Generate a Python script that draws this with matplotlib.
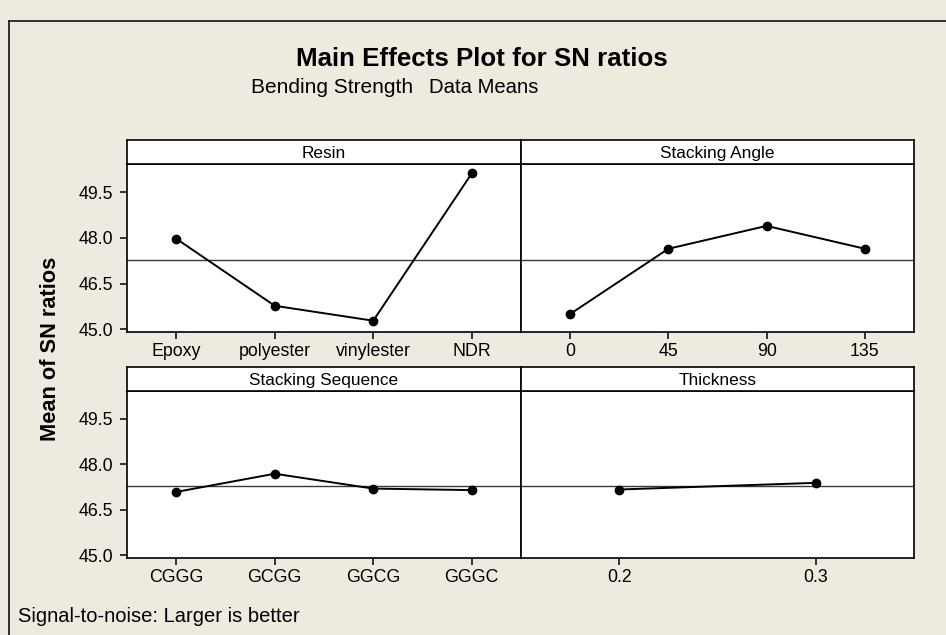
import matplotlib
matplotlib.use('Agg')
import matplotlib.pyplot as plt
from matplotlib.lines import Line2D
import numpy as np

W, H = 946, 635
BG = '#EEEAE0'

# data (mean SN ratios per level)
resin_levels = ['Epoxy', 'polyester', 'vinylester', 'NDR']
resin_sn = [47.97, 45.77, 45.28, 50.11]

angle_levels = ['0', '45', '90', '135']
angle_sn = [45.50, 47.64, 48.39, 47.64]

seq_levels = ['CGGG', 'GCGG', 'GGCG', 'GGGC']
seq_sn = [47.09, 47.69, 47.20, 47.15]

thick_levels = ['0.2', '0.3']
thick_sn = [47.17, 47.39]

yticks = [45.0, 46.5, 48.0, 49.5]

plt.rcParams['font.family'] = ['Liberation Sans', 'DejaVu Sans']

fig = plt.figure(figsize=(W / 100, H / 100), dpi=100, facecolor=BG)


def box(x0, y0, x1, y1):
    # pixel box (top-left origin) -> figure fraction
    return [x0 / W, 1 - y1 / H, (x1 - x0) / W, (y1 - y0) / H]


grand = np.mean(resin_sn)

panels = [
    ('Resin', resin_levels, resin_sn, (127, 140, 521, 332), True),
    ('Stacking Angle', angle_levels, angle_sn, (521, 140, 914, 332), False),
    ('Stacking Sequence', seq_levels, seq_sn, (127, 367, 521, 558), True),
    ('Thickness', thick_levels, thick_sn, (521, 367, 914, 558), False),
]

for name, levels, vals, (x0, ys, x1, y1), left in panels:
    ax = fig.add_axes(box(x0, ys + 24, x1, y1))
    ax.set_facecolor('white')
    pos = np.arange(1, len(levels) + 1)
    ax.axhline(grand, color='#3a3a3a', lw=1.0, zorder=1)
    ax.plot(pos, vals, '-o', color='black', lw=1.4, ms=6, zorder=3)
    ax.set_xlim(0.5, len(levels) + 0.5)
    ax.set_ylim(44.91, 50.42)
    ax.set_xticks(pos)
    ax.set_xticklabels(levels)
    ax.set_yticks(yticks)
    ax.set_yticklabels(['%.1f' % t for t in yticks])
    ax.tick_params(direction='out', length=5, width=1.1, colors='black',
                   labelsize=12.8, pad=3)
    ax.tick_params(axis='y', pad=5)
    if not left:
        ax.tick_params(axis='y', left=False, labelleft=False)
    for s in ax.spines.values():
        s.set_linewidth(1.2)

    strip = fig.add_axes(box(x0, ys, x1, ys + 24))
    strip.set_facecolor('white')
    strip.set_xticks([])
    strip.set_yticks([])
    for s in strip.spines.values():
        s.set_linewidth(1.2)
    strip.text(0.5, 0.45, name, ha='center', va='center', fontsize=12.4,
               transform=strip.transAxes)

# titles
fig.text(482 / W, 1 - 66 / H, 'Main Effects Plot for SN ratios', ha='center',
         va='baseline', fontsize=18.6, fontweight='bold')
fig.text(413 / W, 1 - 93 / H, 'Bending Strength', ha='right', va='baseline',
         fontsize=15)
fig.text(429 / W, 1 - 93 / H, 'Data Means', ha='left', va='baseline',
         fontsize=14.6)

fig.text(50 / W, 1 - 349 / H, 'Mean of SN ratios', rotation=90, ha='center',
         va='center', fontsize=15.7, fontweight='bold')

fig.text(18 / W, 1 - 617 / H, 'Signal-to-noise: Larger is better', ha='left',
         va='center', fontsize=14.5)

# outer frame (only top and left edges visible)
fig.add_artist(Line2D([9 / W, 9 / W], [0, 1 - 21 / H], color='#222222', lw=1.3))
fig.add_artist(Line2D([9 / W, 1], [1 - 21 / H, 1 - 21 / H], color='#222222', lw=1.3))

fig.savefig('out.png', dpi=100, facecolor=BG)
